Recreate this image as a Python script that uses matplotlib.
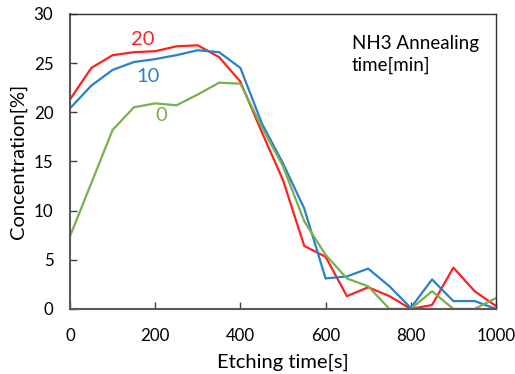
import numpy as np
import matplotlib
matplotlib.use('Agg')
import matplotlib.pyplot as plt

plt.rcParams['font.family'] = ['Lato', 'DejaVu Sans']

time_s = [0, 50, 100, 150, 200, 250, 300, 350, 400, 450, 500,
          550, 600, 650, 700, 750, 800, 850, 900, 950, 1000]
conc_20 = [21.3, 24.5, 25.8, 26.1, 26.2, 26.7, 26.8, 25.6, 23.1, 18.0, 13.1,
           6.4, 5.3, 1.3, 2.2, 1.3, 0.0, 0.4, 4.2, 1.8, 0.3]
conc_10 = [20.4, 22.7, 24.3, 25.1, 25.4, 25.8, 26.3, 26.1, 24.5, 18.9, 14.8,
           10.2, 3.1, 3.3, 4.1, 2.3, 0.1, 3.0, 0.8, 0.8, 0.0]
conc_0 = [7.4, 12.8, 18.2, 20.5, 20.9, 20.7, 21.8, 23.0, 22.9, 18.5, 14.5,
          8.9, 5.5, 3.1, 2.3, 0.0, 0.0, 1.8, 0.0, 0.0, 1.1]

fig = plt.figure(figsize=(5.15, 3.74), dpi=100)
ax = fig.add_axes([0.136, 0.174, 0.827, 0.789])

ax.plot(time_s, conc_20, color='#ff2020', lw=1.6)
ax.plot(time_s, conc_10, color='#2a7fcf', lw=1.6)
ax.plot(time_s, conc_0, color='#77b050', lw=1.6)

ax.text(171, 27.4, '20', color='#ff2020', fontsize=14.5, ha='center', va='center')
ax.text(183, 23.6, '10', color='#2a7fcf', fontsize=14.5, ha='center', va='center')
ax.text(214, 19.7, '0', color='#77b050', fontsize=14.5, ha='center', va='center')
ax.text(662, 25.9, 'NH3 Annealing\ntime[min]', fontsize=13.5, ha='left', va='center',
        linespacing=1.35)

ax.set_xlim(0, 1000)
ax.set_ylim(0, 30)
ax.set_xticks(range(0, 1001, 200))
ax.set_yticks(range(0, 31, 5))
ax.tick_params(direction='in', length=5, width=1, color='#404040', labelsize=12.2)
ax.tick_params(axis='x', pad=14)
ax.tick_params(axis='y', pad=12)
for side in ['left', 'bottom']:
    ax.spines[side].set_color('#595959')
    ax.spines[side].set_linewidth(1.5)
for side in ['top', 'right']:
    ax.spines[side].set_color('#303030')
    ax.spines[side].set_linewidth(1.0)

ax.set_xlabel('Etching time[s]', fontsize=14.5, labelpad=7)
ax.set_ylabel('Concentration[%]', fontsize=14.5, labelpad=5)

fig.savefig('out.png', dpi=100)
